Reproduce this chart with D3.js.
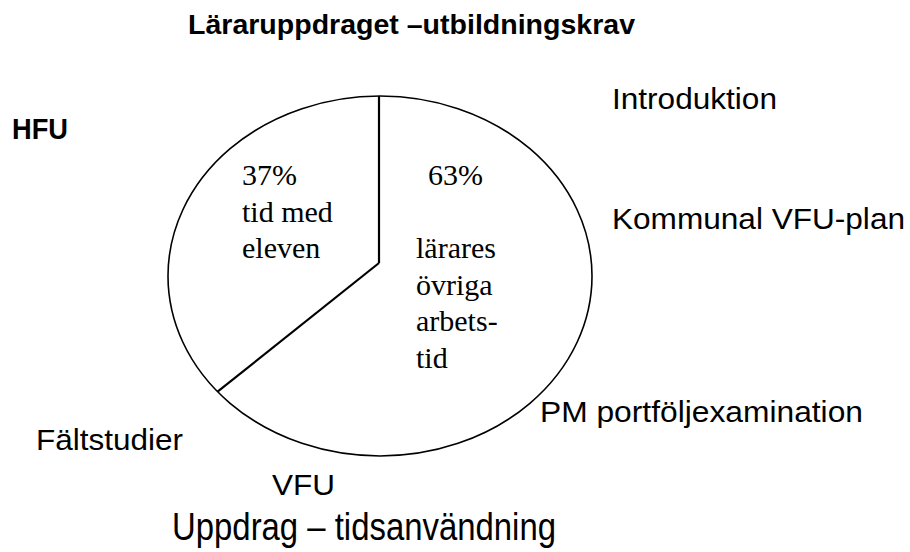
<!DOCTYPE html>
<html>
<head>
<meta charset="utf-8">
<script src="https://cdn.jsdelivr.net/npm/d3@7"></script>
<style>
  html, body { margin: 0; padding: 0; background: #fff; }
  svg { display: block; }
</style>
</head>
<body>
<svg id="chart" width="910" height="552"></svg>
<script>
// ---- data ----
const title = "Läraruppdraget –utbildningskrav";
const subtitle = "Uppdrag – tidsanvändning";
const sliceNames = ["lärares övriga arbetstid", "tid med eleven"];
const sliceValues = [63, 37];
const sliceLabelLines = [
  ["63%", "", "lärares", "övriga", "arbets-", "tid"],
  ["37%", "tid med", "eleven"]
];
const outerLabels = ["HFU", "Introduktion", "Kommunal VFU-plan", "PM portföljexamination", "Fältstudier", "VFU"];

// ---- layout ----
const svg = d3.select("#chart");
const cx = 380, cy = 276, rx = 212, ry = 180;   // ellipse
const pcx = 379, pcy = 263;                     // pie hub

// title
svg.append("text").attr("x", 188).attr("y", 34)
  .attr("font-family", "Liberation Sans, Arial, sans-serif")
  .attr("font-size", 28).attr("font-weight", "bold")
  .attr("textLength", 447).attr("lengthAdjust", "spacingAndGlyphs")
  .text(title);

// ellipse
svg.append("ellipse").attr("cx", cx).attr("cy", cy).attr("rx", rx).attr("ry", ry)
  .attr("fill", "none").attr("stroke", "#000").attr("stroke-width", 1.6);

// pie boundaries via d3.pie
const pie = d3.pie().sort(null).startAngle(0).endAngle(2 * Math.PI);
const arcs = pie(sliceValues);
const bounds = arcs.map(a => a.startAngle);
function edgePoint(a) {
  const dx = rx * Math.sin(a), dy = -ry * Math.cos(a);
  const ox = (pcx - cx), oy = (pcy - cy);
  const A = (dx * dx) / (rx * rx) + (dy * dy) / (ry * ry);
  const B = 2 * ((ox * dx) / (rx * rx) + (oy * dy) / (ry * ry));
  const C = (ox * ox) / (rx * rx) + (oy * oy) / (ry * ry) - 1;
  const t = (-B + Math.sqrt(B * B - 4 * A * C)) / (2 * A);
  return [pcx + t * dx, pcy + t * dy];
}
bounds.forEach(a => {
  const p = edgePoint(a);
  svg.append("line").attr("x1", pcx).attr("y1", pcy).attr("x2", p[0]).attr("y2", p[1])
    .attr("stroke", "#000").attr("stroke-width", 2.2);
});

// slice labels
const sliceLabelPos = [[416, 185], [242, 185]];
sliceLabelLines.forEach((lines, i) => {
  const t = svg.append("text")
    .attr("font-family", "Liberation Serif, Times New Roman, serif")
    .attr("font-size", 30);
  lines.forEach((ln, j) => {
    if (ln === "") return;
    t.append("tspan").attr("x", sliceLabelPos[i][0] + (i === 0 && j === 0 ? 12 : 0))
      .attr("y", sliceLabelPos[i][1] + j * 36.6).text(ln);
  });
});

// outer labels
const outerPos = [
  [12, 139, true, 56],
  [612, 109, false, 165],
  [612, 229, false, 293],
  [540, 422, false, 323],
  [36, 450, false, 147],
  [272, 495, false, 63]
];
outerLabels.forEach((lab, i) => {
  const p = outerPos[i];
  svg.append("text").attr("x", p[0]).attr("y", p[1])
    .attr("font-family", "Liberation Sans, Arial, sans-serif")
    .attr("font-size", 29).attr("font-weight", p[2] ? "bold" : "normal")
    .attr("textLength", p[3]).attr("lengthAdjust", "spacingAndGlyphs")
    .text(lab);
});

// subtitle
svg.append("text").attr("x", 172).attr("y", 540)
  .attr("font-family", "Liberation Sans, Arial, sans-serif")
  .attr("font-size", 38)
  .attr("textLength", 384).attr("lengthAdjust", "spacingAndGlyphs")
  .text(subtitle);
</script>
</body>
</html>
